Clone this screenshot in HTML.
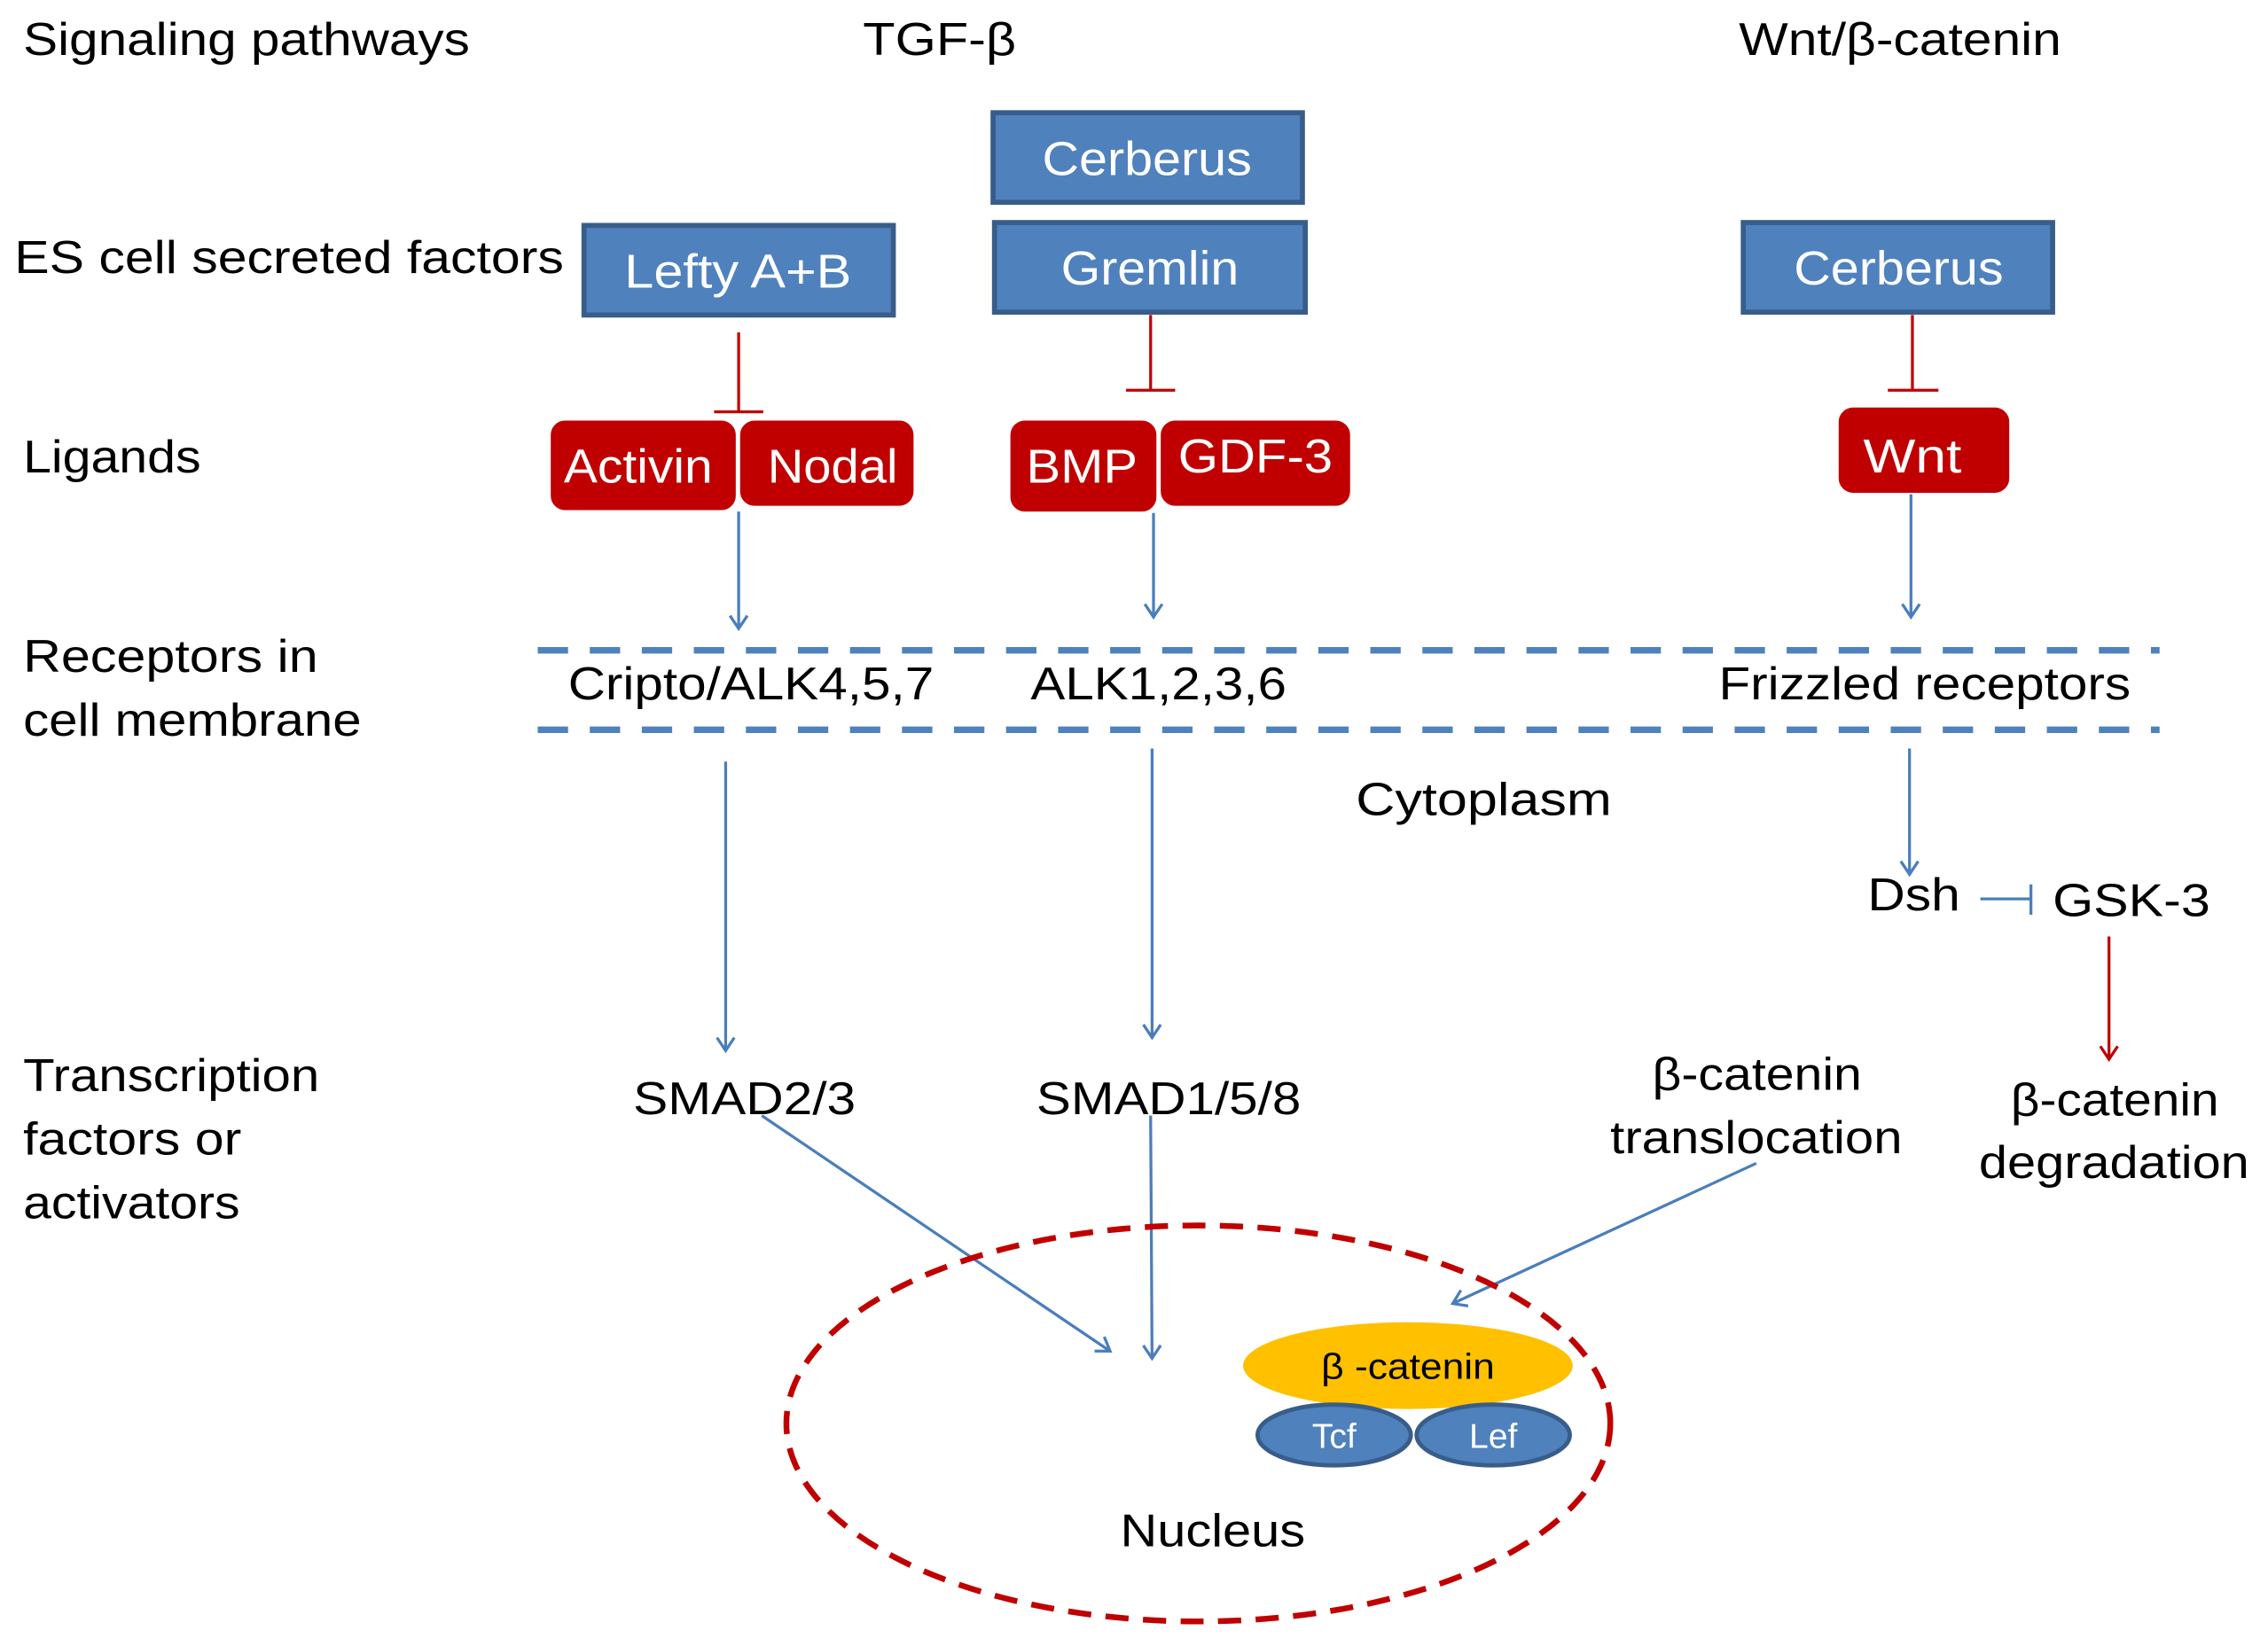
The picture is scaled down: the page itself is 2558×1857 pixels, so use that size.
<!DOCTYPE html>
<html><head><meta charset="utf-8"><style>
html,body{margin:0;padding:0;background:#fff}
svg{display:block}
text{font-family:"Liberation Sans","DejaVu Sans",sans-serif}
</style></head><body>
<svg width="2558" height="1857" viewBox="0 0 1569 1139" preserveAspectRatio="none" xmlns="http://www.w3.org/2000/svg">
<defs>
<marker id="ab" markerWidth="20" markerHeight="20" refX="10" refY="10" orient="auto" markerUnits="userSpaceOnUse">
<path d="M1,4 L10,10 L1,16" fill="none" stroke="#4a7ebb" stroke-width="2"/></marker>
<marker id="ar" markerWidth="20" markerHeight="20" refX="10" refY="10" orient="auto" markerUnits="userSpaceOnUse">
<path d="M1,4 L10,10 L1,16" fill="none" stroke="#c00000" stroke-width="2"/></marker>
</defs>
<g font-size="32" fill="#000">
<text x="16" y="38" textLength="309" lengthAdjust="spacingAndGlyphs">Signaling  pathways</text>
<text x="597" y="38" textLength="106" lengthAdjust="spacingAndGlyphs">TGF-β</text>
<text x="1203" y="38" textLength="223" lengthAdjust="spacingAndGlyphs">Wnt/β-catenin</text>
<text x="10" y="189" textLength="380" lengthAdjust="spacingAndGlyphs">ES cell  secreted  factors</text>
<text x="16" y="327" textLength="123" lengthAdjust="spacingAndGlyphs">Ligands</text>
<text x="16" y="465" textLength="204" lengthAdjust="spacingAndGlyphs">Receptors  in</text>
<text x="16" y="509" textLength="234" lengthAdjust="spacingAndGlyphs">cell membrane</text>
<text x="393" y="484" textLength="253" lengthAdjust="spacingAndGlyphs">Cripto/ALK4,5,7</text>
<text x="713" y="484" textLength="177" lengthAdjust="spacingAndGlyphs">ALK1,2,3,6</text>
<text x="1189" y="484" textLength="285" lengthAdjust="spacingAndGlyphs">Frizzled  receptors</text>
<text x="938" y="564" textLength="177" lengthAdjust="spacingAndGlyphs">Cytoplasm</text>
<text x="1292" y="630" textLength="64" lengthAdjust="spacingAndGlyphs">Dsh</text>
<text x="1420" y="634" textLength="109" lengthAdjust="spacingAndGlyphs">GSK-3</text>
<text x="16" y="755" textLength="205" lengthAdjust="spacingAndGlyphs">Transcription</text>
<text x="16" y="799" textLength="151" lengthAdjust="spacingAndGlyphs">factors  or</text>
<text x="16" y="843" textLength="150" lengthAdjust="spacingAndGlyphs">activators</text>
<text x="438" y="771" textLength="154" lengthAdjust="spacingAndGlyphs">SMAD2/3</text>
<text x="717" y="771" textLength="183" lengthAdjust="spacingAndGlyphs">SMAD1/5/8</text>
<text x="1143" y="754" textLength="145" lengthAdjust="spacingAndGlyphs">β-catenin</text>
<text x="1114" y="798" textLength="202" lengthAdjust="spacingAndGlyphs">translocation</text>
<text x="1391" y="772" textLength="144" lengthAdjust="spacingAndGlyphs">β-catenin</text>
<text x="1369" y="815" textLength="187" lengthAdjust="spacingAndGlyphs">degradation</text>
<text x="775" y="1070" textLength="128" lengthAdjust="spacingAndGlyphs">Nucleus</text>
</g>
<g fill="#4f81bd" stroke="#385d8a" stroke-width="3.5">
<rect x="687" y="78" width="214" height="62"/>
<rect x="688" y="154" width="215" height="62"/>
<rect x="404" y="156" width="214" height="62"/>
<rect x="1206" y="154" width="214" height="62"/>
</g>
<g font-size="33" fill="#fff">
<text x="721" y="121" textLength="145" lengthAdjust="spacingAndGlyphs">Cerberus</text>
<text x="734" y="197" textLength="123" lengthAdjust="spacingAndGlyphs">Gremlin</text>
<text x="432" y="199" textLength="157" lengthAdjust="spacingAndGlyphs">Lefty A+B</text>
<text x="1241" y="197" textLength="145" lengthAdjust="spacingAndGlyphs">Cerberus</text>
</g>
<g fill="#c00000" stroke="#fff" stroke-width="2">
<rect x="380" y="290" width="130" height="64" rx="11"/>
<rect x="511" y="290" width="122" height="61" rx="11"/>
<rect x="698" y="290" width="103" height="65" rx="11"/>
<rect x="802" y="290" width="133" height="61" rx="11"/>
<rect x="1271" y="281" width="120" height="61" rx="11"/>
</g>
<g font-size="33" fill="#fff">
<text x="390" y="334" textLength="103" lengthAdjust="spacingAndGlyphs">Activin</text>
<text x="531" y="334" textLength="90" lengthAdjust="spacingAndGlyphs">Nodal</text>
<text x="710" y="334" textLength="77" lengthAdjust="spacingAndGlyphs">BMP</text>
<text x="815" y="327" textLength="107" lengthAdjust="spacingAndGlyphs">GDF-3</text>
<text x="1289" y="327" textLength="68" lengthAdjust="spacingAndGlyphs">Wnt</text>
</g>
<g stroke="#c00000" stroke-width="2" fill="none">
<path d="M511,230 V285 M494,285 H528"/>
<path d="M796,218 V270 M779,270 H813"/>
<path d="M1323,218 V270 M1306,270 H1341"/>
<path d="M1459,648 V733" marker-end="url(#ar)"/>
</g>
<g stroke="#4a7ebb" stroke-width="2" fill="none">
<path d="M511,354 V435" marker-end="url(#ab)"/>
<path d="M798,355 V427" marker-end="url(#ab)"/>
<path d="M1322,342 V427" marker-end="url(#ab)"/>
<path d="M502,527 V727" marker-end="url(#ab)"/>
<path d="M797,518 V718" marker-end="url(#ab)"/>
<path d="M1321,518 V605" marker-end="url(#ab)"/>
<path d="M1370,622 H1405 M1405,612 V633"/>
<path d="M527,772 L768,935" marker-end="url(#ab)"/>
<path d="M796,772 L797,940" marker-end="url(#ab)"/>
<path d="M1215,805 L1005,902" marker-end="url(#ab)"/>
</g>
<g stroke="#4f81bd" stroke-width="4.5" stroke-dasharray="21,15">
<line x1="372" y1="450" x2="1494" y2="450"/>
<line x1="372" y1="505" x2="1494" y2="505"/>
</g>
<ellipse cx="829" cy="985" rx="285" ry="137" fill="none" stroke="#c00000" stroke-width="4" stroke-dasharray="16,10"/>
<ellipse cx="974" cy="945" rx="114" ry="30" fill="#ffc000"/>
<text x="914" y="954" font-size="25" fill="#000" textLength="120" lengthAdjust="spacingAndGlyphs">β -catenin</text>
<g fill="#4f81bd" stroke="#385d8a" stroke-width="3">
<ellipse cx="923" cy="993" rx="53" ry="21"/>
<ellipse cx="1033" cy="993" rx="53" ry="21"/>
</g>
<g font-size="24" fill="#fff" text-anchor="middle">
<text x="923" y="1002">Tcf</text>
<text x="1033" y="1002">Lef</text>
</g>
</svg>
</body></html>
